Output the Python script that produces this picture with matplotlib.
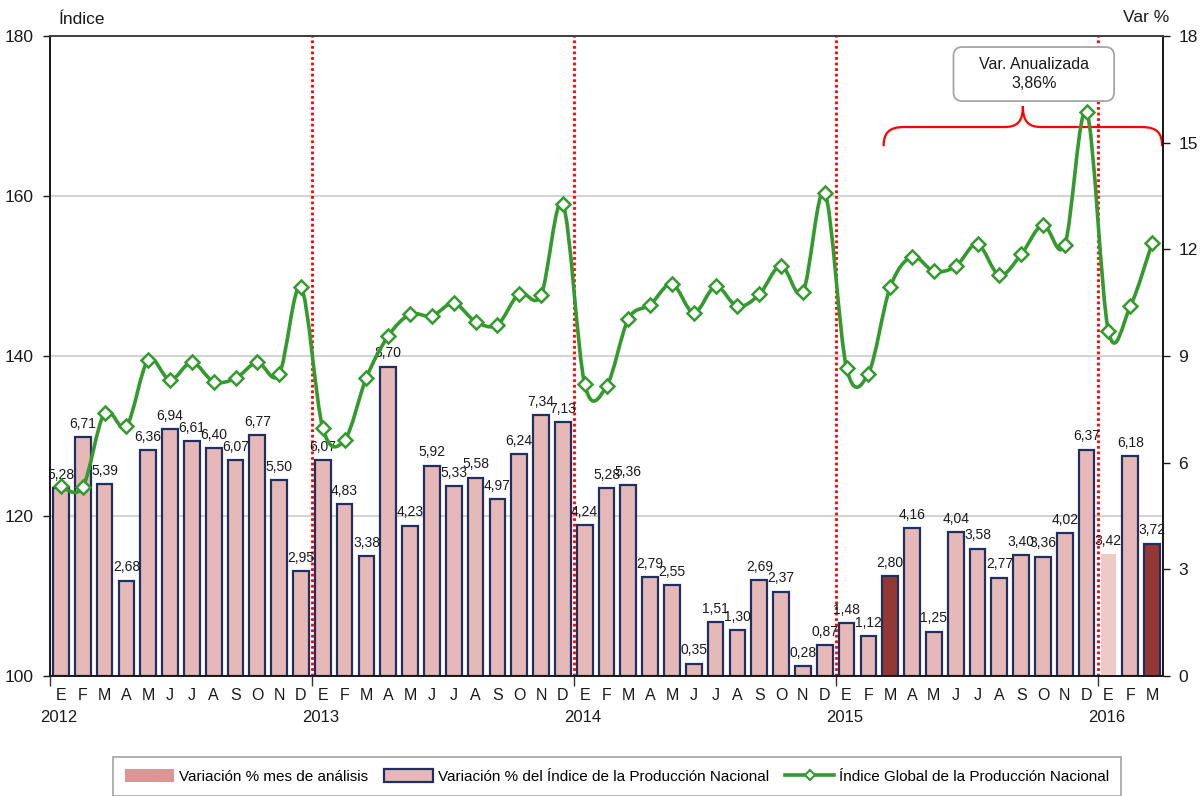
import numpy as np
import matplotlib
matplotlib.use("Agg")
import matplotlib.pyplot as plt
from matplotlib.path import Path
from matplotlib.patches import PathPatch, FancyBboxPatch, Patch
from matplotlib.lines import Line2D
import matplotlib.transforms as mtrans

plt.rcParams['font.family'] = ['Liberation Sans Narrow', 'Liberation Sans', 'DejaVu Sans']

# ---------------- data ----------------
months = ['E', 'F', 'M', 'A', 'M', 'J', 'J', 'A', 'S', 'O', 'N', 'D'] * 4 + ['E', 'F', 'M']
years = ['2012', '2013', '2014', '2015', '2016']

var_pct = [5.28, 6.71, 5.39, 2.68, 6.36, 6.94, 6.61, 6.40, 6.07, 6.77, 5.50, 2.95,
           6.07, 4.83, 3.38, 8.70, 4.23, 5.92, 5.33, 5.58, 4.97, 6.24, 7.34, 7.13,
           4.24, 5.28, 5.36, 2.79, 2.55, 0.35, 1.51, 1.30, 2.69, 2.37, 0.28, 0.87,
           1.48, 1.12, 2.80, 4.16, 1.25, 4.04, 3.58, 2.77, 3.40, 3.36, 4.02, 6.37,
           3.42, 6.18, 3.72]

indice = [123.7, 123.6, 132.9, 131.2, 139.5, 137.0, 139.2, 136.8, 137.2, 139.2, 137.7, 148.6,
          131.0, 129.5, 137.3, 142.5, 145.2, 145.0, 146.6, 144.3, 143.9, 147.8, 147.6, 159.0,
          136.5, 136.2, 144.6, 146.4, 149.0, 145.4, 148.7, 146.2, 147.7, 151.3, 148.0, 160.4,
          138.5, 137.8, 148.6, 152.4, 150.6, 151.2, 154.0, 150.1, 152.7, 156.4, 153.9, 170.5,
          143.1, 146.2, 154.1]

analysis_months = [38, 50]      # M 2015, M 2016
faded_months = [48]             # E 2016
annual_label = "Var. Anualizada\n3,86%"

idx_ticks = [100, 120, 140, 160, 180]
var_ticks = [0, 3, 6, 9, 12, 15, 18]

# ---------------- colours ----------------
c_bar = '#e6b9b8'
c_edge = '#1f3060'
c_dark = '#953735'
c_faded = '#eec9c8'
c_leg1 = '#da9694'
c_green = '#339a2e'
c_red = '#ff0000'

W, H = 1202, 796
fig = plt.figure(figsize=(W / 100, H / 100), dpi=100)
L, R, T, B = 50, 1163, 36, 676
ax = fig.add_axes([L / W, 1 - B / H, (R - L) / W, (B - T) / H])
ax2 = ax.twinx()

n = len(var_pct)
x = np.arange(n)

# ---- bars (primary axis, right scale) ----
fills, edges, lws = [], [], []
for i in range(n):
    if i in analysis_months:
        fills.append(c_dark); edges.append(c_edge); lws.append(1.6)
    elif i in faded_months:
        fills.append(c_faded); edges.append(c_faded); lws.append(0)
    else:
        fills.append(c_bar); edges.append(c_edge); lws.append(1.6)
ax.bar(x, var_pct, width=0.72, color=fills, edgecolor=edges, linewidth=lws, zorder=2)

for i, v in enumerate(var_pct):
    ax.annotate(f"{v:.2f}".replace('.', ','), (i, v), xytext=(0, 4.5),
                textcoords='offset points', ha='center', va='bottom',
                fontsize=10, color='#1a1a1a', zorder=5)

ax.set_xlim(-0.5, n - 0.5)
ax.set_ylim(var_ticks[0], var_ticks[-1])

# gridlines matching the left (index) ticks, behind the bars
for t in idx_ticks[1:-1]:
    ax.axhline((t - idx_ticks[0]) / (idx_ticks[-1] - idx_ticks[0]) * var_ticks[-1],
               color='#c8c8c8', lw=1.1, zorder=0)

# year separators
for b in range(12, n, 12):
    ax.axvline(b - 0.5, color=c_red, lw=2, linestyle=(0, (1, 1)), zorder=4)

# ---- line (twin axis, left scale) ----
ax2.set_ylim(idx_ticks[0], idx_ticks[-1])
pts = np.column_stack([x, indice]).astype(float)
ext = np.vstack([pts[0], pts, pts[-1]])
verts = [tuple(pts[0])]
codes = [Path.MOVETO]
for i in range(n - 1):
    p0, p1, p2, p3 = ext[i], ext[i + 1], ext[i + 2], ext[i + 3]
    c1 = p1 + (p2 - p0) / 6.0
    c2 = p2 - (p3 - p1) / 6.0
    verts += [tuple(c1), tuple(c2), tuple(p2)]
    codes += [Path.CURVE4] * 3
ax2.add_patch(PathPatch(Path(verts, codes), facecolor='none', edgecolor=c_green,
                        lw=2.6, zorder=3, capstyle='round', joinstyle='round'))
ax2.plot(x, indice, linestyle='none', marker='D', markersize=7, markerfacecolor='white',
         markeredgecolor=c_green, markeredgewidth=1.8, zorder=4)

# ---- axes styling ----
ax.yaxis.tick_right()
ax.yaxis.set_label_position('right')
ax2.yaxis.tick_left()
ax2.yaxis.set_label_position('left')
ax.set_yticks(var_ticks)
ax2.set_yticks(idx_ticks)
ax.tick_params(axis='y', labelsize=12.5, length=5, width=1, pad=6, colors='#1a1a1a')
ax2.tick_params(axis='y', labelsize=12.5, length=5, width=1, pad=7, colors='#1a1a1a')

ax.set_xticks(np.arange(11.5, n, 12).tolist() + [-0.5])
ax.set_xticklabels([])
ax.tick_params(axis='x', which='major', length=7, width=1, color='#333333')
ax.set_xticks(x, minor=True)
ax.set_xticklabels(months, minor=True)
ax.tick_params(axis='x', which='minor', length=0, pad=9, labelsize=11.5, colors='#1a1a1a')

trans = mtrans.blended_transform_factory(ax.transData, ax.transAxes)
for k, yl in enumerate(years):
    ax.text(12 * k - 0.1, -41 / (B - T), yl, transform=trans, ha='center', va='center',
            fontsize=12, color='#1a1a1a')

for a in (ax, ax2):
    a.spines['top'].set_color('#404040')
    a.spines['bottom'].set_color('#1a1a1a')
    a.spines['left'].set_color('#1a1a1a')
    a.spines['right'].set_color('#1a1a1a')
    for s in a.spines.values():
        s.set_linewidth(1.3)

fig.text(59 / W, 1 - 20 / H, 'Índice', ha='left', va='center', fontsize=12.5, color='#1a1a1a')
fig.text(1169 / W, 1 - 18 / H, 'Var %', ha='right', va='center', fontsize=12.5, color='#1a1a1a')

# ---- annotation: brace + box ----
x0, x1 = analysis_months[0] - 0.3, n - 0.54
xm = (x0 + x1) / 2
yb, yh, yp = 14.9, 15.44, 16.03
bv = [(x0, yb), (x0, yb + 0.38), (x0 + 0.25, yh), (x0 + 0.95, yh),
      (xm - 0.85, yh),
      (xm - 0.25, yh), (xm, yh + 0.15), (xm, yp),
      (xm, yh + 0.15), (xm + 0.25, yh), (xm + 0.85, yh),
      (x1 - 0.95, yh),
      (x1 - 0.25, yh), (x1, yb + 0.38), (x1, yb)]
bc = [Path.MOVETO, Path.CURVE4, Path.CURVE4, Path.CURVE4,
      Path.LINETO,
      Path.CURVE4, Path.CURVE4, Path.CURVE4,
      Path.CURVE4, Path.CURVE4, Path.CURVE4,
      Path.LINETO,
      Path.CURVE4, Path.CURVE4, Path.CURVE4]
ax.add_patch(PathPatch(Path(bv, bc), facecolor='none', edgecolor=c_red, lw=1.6,
                       zorder=6, clip_on=False))

bx0, bx1, by0, by1 = 40.9, 48.26, 16.17, 17.69
ax.add_patch(FancyBboxPatch((bx0, by0), bx1 - bx0, by1 - by0,
                            boxstyle='round,pad=0,rounding_size=0.4',
                            mutation_aspect=21.82 / 35.56,
                            facecolor='white', edgecolor='#a6a6a6', lw=1.3, zorder=6))
ax.text((bx0 + bx1) / 2, (by0 + by1) / 2, annual_label, ha='center', va='center',
        fontsize=11.5, linespacing=1.3, color='#1a1a1a', zorder=7)

# ---- legend ----
handles = [Patch(facecolor=c_leg1, edgecolor='none'),
           Patch(facecolor=c_bar, edgecolor=c_edge, linewidth=1.6),
           Line2D([], [], color=c_green, lw=2.6, marker='D', markersize=5,
                  markerfacecolor='white', markeredgecolor=c_green, markeredgewidth=1.5)]
labels = ['Variación % mes de análisis',
          'Variación % del Índice de la Producción Nacional',
          'Índice Global de la Producción Nacional']
leg = fig.legend(handles, labels, loc='upper left', ncol=3,
                 bbox_to_anchor=(113 / W, 0, (1121 - 113) / W, 1 - 757 / H),
                 mode='expand', fontsize=11, frameon=True, fancybox=False,
                 edgecolor='#8c8c8c', handlelength=3.2, handleheight=0.9,
                 borderpad=0.8, borderaxespad=0, columnspacing=1.5, handletextpad=0.3)
leg.get_frame().set_linewidth(1.2)

fig.savefig('out.png', dpi=100)
